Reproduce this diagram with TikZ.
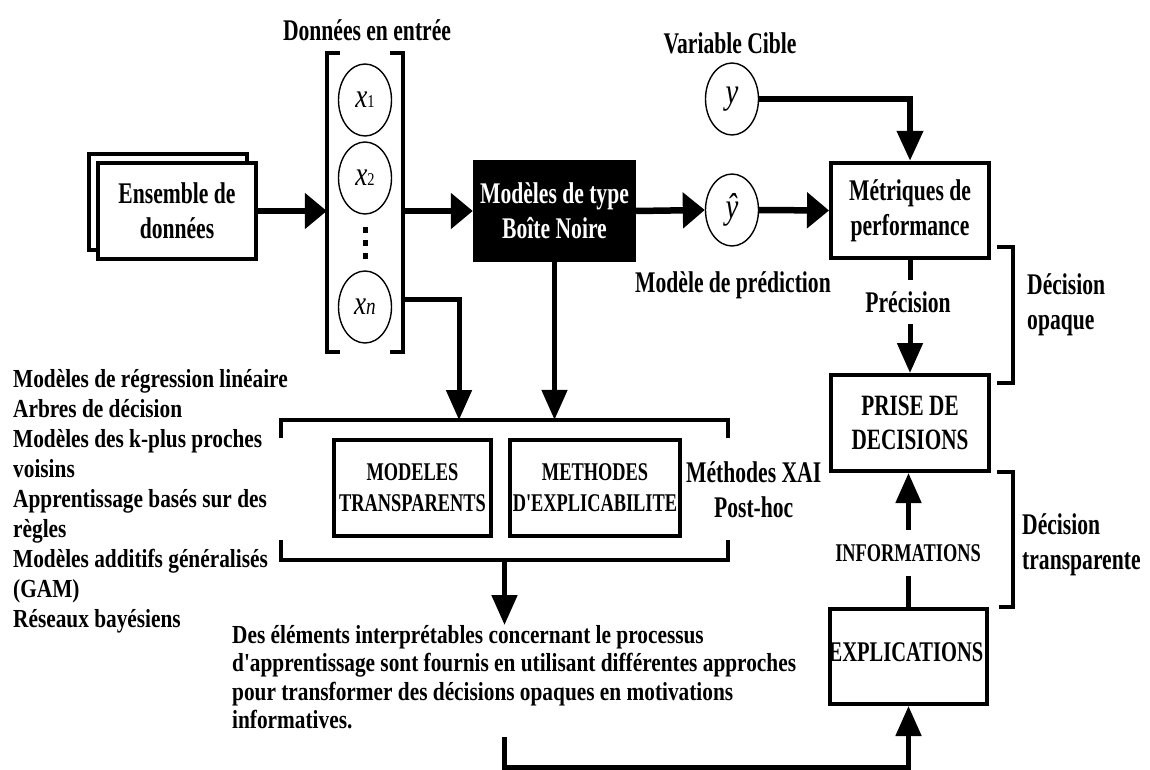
\documentclass[tikz,border=0pt]{standalone}
\usepackage{fontspec}
\setmainfont{Liberation Serif}[FakeStretch=0.72,Ligatures=TeXOff]
\newfontfamily\listfont{Liberation Serif}[FakeStretch=0.82,Ligatures=TeXOff]
\newfontfamily\varfont{Liberation Serif}[FakeStretch=0.8]
\usetikzlibrary{arrows.meta,shapes.geometric}

\tikzset{
  lbl/.style={inner sep=0pt, font=\fontsize{30}{35}\selectfont\bfseries, align=center},
  capslbl/.style={inner sep=0pt, font=\fontsize{25.5}{31}\selectfont\bfseries, align=center},
  box/.style={draw, line width=4pt, inner sep=0pt, align=center},
  var/.style={draw, ellipse, line width=1.4pt, minimum width=53pt, minimum height=72pt, inner sep=0pt},
  hline/.style={line width=6.5pt},
  vline/.style={line width=5pt},
  brk/.style={line width=3.5pt},
  harrow/.style={-{Triangle[length=22pt,width=35pt]}},
  varrow/.style={-{Triangle[length=30pt,width=25pt]}},
}
\newcommand{\xvar}[1]{{\varfont\itshape\fontsize{34}{34}\selectfont x}{\varfont\fontsize{18}{18}\selectfont #1}}

\begin{document}
\begin{tikzpicture}[x=1pt,y=-1pt,line join=miter]
\useasboundingbox[fill=white] (0,0) rectangle (1150,770);

% --- data set (stacked sheets)
\node[box, minimum width=158pt, minimum height=96pt] (ensback) at (168,202) {};
\node[box, fill=white, minimum width=158pt, minimum height=96pt, lbl] (ens) at (177,211)
  {Ensemble de\\données};

% --- input vector
\node[inner sep=0pt, minimum width=76pt, minimum height=299pt] (inbr) at (365,202.5) {};
\draw[brk] (340,53) -| (inbr.west) |- (340,352);
\draw[brk] (390,53) -| (inbr.east) |- (390,352);
\node[lbl] (intitle) at (367,30) {Données en entrée};
\node[var] (x1) at (365,100) {\xvar{1}};
\node[var] (x2) at (365,178) {\xvar{2}};
\node[var] (xn) at (365,307) {{\varfont\itshape\fontsize{34}{34}\selectfont x}{\varfont\itshape\fontsize{24}{24}\selectfont n}};
\fill (362.5,227) rectangle (367.5,233);
\fill (362.5,240) rectangle (367.5,246);
\fill (362.5,253) rectangle (367.5,259);

% --- black-box model
\node[fill=black, text=white, minimum width=163pt, minimum height=102pt, lbl] (bb) at (554.5,211)
  {Modèles de type\\Boîte Noire};

% --- prediction and target
\node[var] (yhat) at (732,210) {{\varfont\itshape\fontsize{36}{36}\selectfont ŷ}};
\node[var] (ytrue) at (732,99) {{\varfont\itshape\fontsize{36}{36}\selectfont y}};
\node[lbl] (target) at (730,43) {Variable Cible};
\node[lbl] (predlbl) at (733,285) {Modèle de prédiction};

% --- right column
\node[box, lbl, minimum width=158pt, minimum height=95pt] (met) at (910,210.5) {Métriques de\\performance};
\node[lbl, minimum height=44pt] (prec) at (908,302) {Précision};
\node[box, capslbl, font=\fontsize{29.5}{34}\selectfont\bfseries, minimum width=158pt, minimum height=96pt] (prise) at (910,423) {PRISE DE\\DECISIONS};
\node[capslbl, minimum height=46pt] (info) at (908,553) {INFORMATIONS};
\node[box, minimum width=157pt, minimum height=95pt] (expl) at (908.5,656.5) {};
\node[capslbl, font=\fontsize{28.5}{34}\selectfont\bfseries] (expltxt) at (906,652) {EXPLICATIONS};

% --- side brackets
\draw[brk] (997,247) -| (1013,383) -- (997,383);
\node[lbl, anchor=west, align=left] (opq) at (1027,305) {Décision\\opaque};
\draw[brk] (997,472) -| (1013,607) -- (999,607);
\node[lbl, anchor=west, align=left] (trsp) at (1022,545) {Décision\\transparente};

% --- XAI group
\node[inner sep=0pt, minimum width=447pt, minimum height=140pt] (xai) at (504.5,490) {};
\draw[brk] (xai.west |- 0,438) |- (xai.north east) -- (xai.east |- 0,438);
\draw[brk] (xai.west |- 0,540) |- (xai.south east) -- (xai.east |- 0,540);
\node[box, capslbl, minimum width=157pt, minimum height=96pt] (mod) at (412.5,488) {MODELES\\TRANSPARENTS};
\node[box, capslbl, minimum width=170pt, minimum height=96pt] (meth) at (595,488) {METHODES\\D'EXPLICABILITE};
\node[lbl, anchor=west] (xailbl) at (686,490) {Méthodes XAI\\Post-hoc};
\coordinate (xaiin1) at (459,420);

% --- side list and explanation text
\node[anchor=north west, inner sep=0pt, align=left, font=\listfont\fontsize{26}{30}\selectfont\bfseries] (list) at (13,369)
  {Modèles de régression linéaire\\Arbres de décision\\Modèles des k-plus proches\\voisins\\Apprentissage basés sur des\\règles\\Modèles additifs généralisés\\(GAM)\\Réseaux bayésiens};
\node[anchor=north west, inner sep=0pt, align=left, font=\listfont\fontsize{26}{28.5}\selectfont\bfseries] (para) at (232,625)
  {Des éléments interprétables concernant le processus\\d'apprentissage sont fournis en utilisant différentes approches\\pour transformer des décisions opaques en motivations\\informatives.};
\coordinate (bend) at (0,767);

% --- connectors
\draw[hline,harrow] (ens.east) -- (ens.east -| inbr.west);
\draw[hline,harrow] (inbr.east |- bb.west) -- (bb.west);
\draw[hline,harrow] (bb.east) -- (yhat.west);
\draw[hline,harrow] (yhat.east) -- (met.west);
\draw[hline,varrow] (ytrue.east) -| (met.north);
\draw[vline] (met.south) -- (met.south |- prec.north);
\draw[vline,varrow] (prise.north |- prec.south) -- (prise.north);
\draw[vline,varrow] (expl.north |- info.north) -- (expl.north |- prise.south);
\draw[vline] (expl.north) -- (expl.north |- info.south);
\draw[vline,varrow] (inbr.east |- 0,299) -| (xaiin1);
\draw[vline,varrow] (bb.south) -- (bb.south |- xai.north);
\draw[vline,varrow] (xai.south) -- (xai.south |- para.north);
\draw[vline,varrow] (xai.south |- 0,737) -- (xai.south |- bend) -| (expl.south);
\end{tikzpicture}
\end{document}
